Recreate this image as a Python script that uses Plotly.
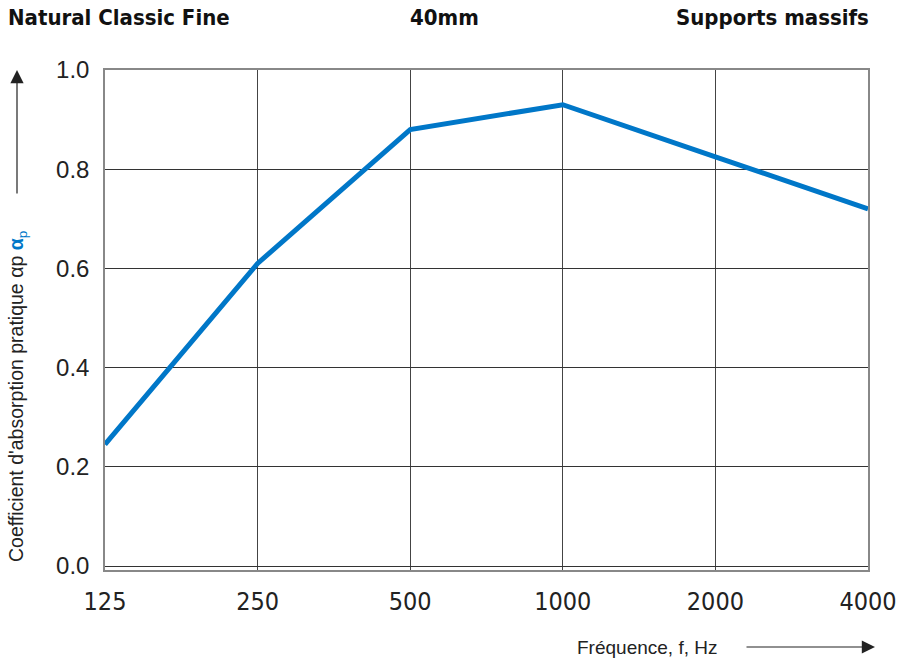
import plotly.graph_objects as go

frequencies = ["125", "250", "500", "1000", "2000", "4000"]
alpha_p = [0.245, 0.61, 0.88, 0.93, 0.825, 0.72]
y_ticks = [0.0, 0.2, 0.4, 0.6, 0.8, 1.0]
y_tick_labels = ["0.0", "0.2", "0.4", "0.6", "0.8", "1.0"]

title_left = "Natural Classic Fine"
title_mid = "40mm"
title_right = "Supports massifs"
x_title = "Fréquence, f, Hz"
y_title = ("Coefficient d'absorption pratique αp "
           "<b><span style='color:#0077C8'>α</span></b>"
           "<sub><span style='color:#0077C8'>p</span></sub>")

W, H = 897, 660
L, R, T, B = 105, 29, 70, 90
pw, ph = W - L - R, H - T - B


def px(x):
    return (x - L) / pw


def py(y):
    return (H - B - y) / ph


COND = "DejaVu Sans Condensed, Roboto, sans-serif"
ARIAL = "Liberation Sans, Arial, sans-serif"

fig = go.Figure()
fig.add_trace(go.Scatter(
    x=frequencies, y=alpha_p, mode="lines",
    line=dict(color="#0077C8", width=5),
    hoverinfo="x+y", showlegend=False,
))

fig.update_layout(
    width=W, height=H,
    margin=dict(l=L, r=R, t=T, b=B, pad=0, autoexpand=False),
    paper_bgcolor="white", plot_bgcolor="white",
    font=dict(family=ARIAL, color="#222"),
    xaxis=dict(
        type="category", range=[0, 5], automargin=False,
        showgrid=True, gridcolor="#444", gridwidth=1.2,
        showline=True, linecolor="#888", linewidth=1.5, mirror=True,
        ticks="", tickfont=dict(family=COND, size=25, color="#222"),
        ticklabelstandoff=8, zeroline=False,
    ),
    yaxis=dict(
        range=[-0.008, 1.0], automargin=False,
        tickvals=y_ticks, ticktext=y_tick_labels,
        showgrid=True, gridcolor="#333", gridwidth=1.2,
        showline=True, linecolor="#888", linewidth=1.5, mirror=True,
        ticks="", tickfont=dict(family=ARIAL, size=24, color="#222"),
        ticklabelstandoff=9, zeroline=False,
    ),
)

title_font = dict(family=COND, size=22, color="#111")
fig.add_annotation(xref="paper", yref="paper", x=px(6), y=py(18), text="<b>" + title_left + "</b>",
                   showarrow=False, xanchor="left", yanchor="middle", font=title_font)
fig.add_annotation(xref="paper", yref="paper", x=px(444), y=py(18), text="<b>" + title_mid + "</b>",
                   showarrow=False, xanchor="center", yanchor="middle", font=title_font)
fig.add_annotation(xref="paper", yref="paper", x=px(871), y=py(18), text="<b>" + title_right + "</b>",
                   showarrow=False, xanchor="right", yanchor="middle", font=title_font)

# y axis title (rotated)
fig.add_annotation(xref="paper", yref="paper", x=px(17), y=py(396), text=y_title, textangle=-90,
                   showarrow=False, xanchor="center", yanchor="middle",
                   font=dict(family=ARIAL, size=19.5, color="#222"))
# up arrow
fig.add_annotation(xref="paper", yref="paper", x=px(17), y=py(70), ax=0, ay=125, text="",
                   showarrow=True, arrowhead=2, arrowsize=2.2, arrowwidth=1.2, arrowcolor="#222")

# x axis title
fig.add_annotation(xref="paper", yref="paper", x=px(647), y=py(647), text=x_title,
                   showarrow=False, xanchor="center", yanchor="middle",
                   font=dict(family=ARIAL, size=19, color="#222"))
# right arrow
fig.add_annotation(xref="paper", yref="paper", x=px(875), y=py(647), ax=-130, ay=0, text="",
                   showarrow=True, arrowhead=2, arrowsize=2.2, arrowwidth=1.2, arrowcolor="#222")

fig.write_html("out.html", config={"displayModeBar": False},
               post_script="document.body.style.margin='0';document.body.style.overflow='hidden';")
